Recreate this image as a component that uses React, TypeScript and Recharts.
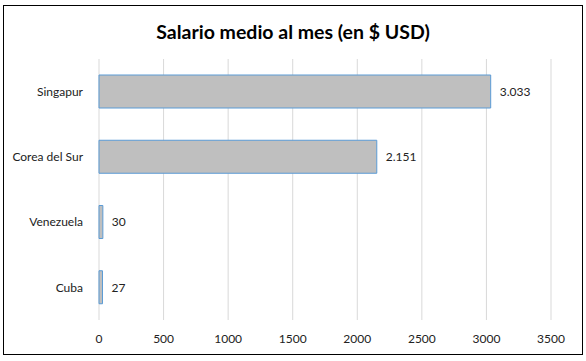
import { BarChart, Bar, XAxis, YAxis, CartesianGrid, LabelList } from 'recharts';

const countries = ['Singapur', 'Corea del Sur', 'Venezuela', 'Cuba'];
const salaries = [3033, 2151, 30, 27];
const xTicks = [0, 500, 1000, 1500, 2000, 2500, 3000, 3500];

const data = countries.map((name, i) => ({ name, value: salaries[i] }));

const FONT = 'Lato, "Open Sans", sans-serif';

// Excel style "3.033"
const fmt = (v: number) => v.toLocaleString('de-DE');

export default function App() {
  return (
    <div style={{ position: 'absolute', left: 0, top: 0, width: 586, height: 361, background: '#fff', fontFamily: FONT }}>
      <div
        style={{
          position: 'absolute',
          left: 3,
          top: 5,
          width: 578,
          height: 348,
          border: '1px solid #000',
        }}
      />
      <div
        style={{
          position: 'absolute',
          left: 0,
          width: 586,
          top: 20,
          textAlign: 'center',
          fontSize: 19.5,
          fontWeight: 700,
          color: '#000',
        }}
      >
        Salario medio al mes (en $ USD)
      </div>
      <div style={{ position: 'absolute', left: 0, top: 0 }}>
        <BarChart
          width={586}
          height={361}
          data={data}
          layout="vertical"
          margin={{ top: 59, right: 35, bottom: 21, left: 0 }}
        >
          <CartesianGrid horizontal={false} stroke="#d9d9d9" />
          <XAxis
            type="number"
            domain={[0, 3500]}
            ticks={xTicks}
            axisLine={false}
            tickLine={false}
            tickMargin={8}
            tick={{ fill: '#222', fontSize: 12, fontFamily: FONT }}
            height={20}
          />
          <YAxis
            type="category"
            dataKey="name"
            width={99}
            axisLine={false}
            tickLine={false}
            tickSize={0}
            tickMargin={16}
            tick={{ fill: '#222', fontSize: 12, fontFamily: FONT }}
          />
          <Bar dataKey="value" fill="#bfbfbf" stroke="#5b9bd5" strokeWidth={1} barSize={33} isAnimationActive={false}>
            <LabelList
              dataKey="value"
              position="right"
              offset={9}
              formatter={(v: number) => fmt(v)}
              style={{ fill: '#222', fontSize: 12, fontFamily: FONT }}
            />
          </Bar>
        </BarChart>
      </div>
    </div>
  );
}
